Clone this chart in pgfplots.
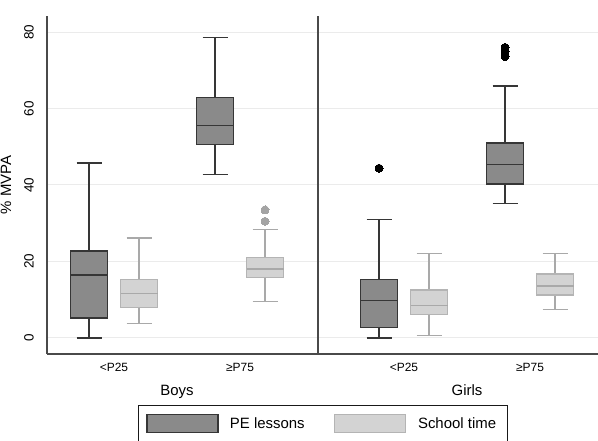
\documentclass[border=0pt]{standalone}
\usepackage{pgfplots}
\pgfplotsset{compat=1.18}
\usepackage{fontspec}
\setmainfont{Liberation Sans}
\definecolor{pefill}{HTML}{8A8A8A}
\definecolor{peedge}{HTML}{363636}
\definecolor{stfill}{HTML}{D3D3D3}
\definecolor{stedge}{HTML}{B4B4B4}
\definecolor{stwhiskc}{HTML}{A9A9A9}
\definecolor{stout}{HTML}{A4A4A4}
\definecolor{gridc}{HTML}{EBEBEB}
\definecolor{axc}{HTML}{4A4A4A}
% \bx{position}{lower whisker}{lower quartile}{median}{upper quartile}{upper whisker}{style prefix}
\newcommand{\bx}[7]{%
  \pgfmathsetmacro\bxl{#1-18.5}\pgfmathsetmacro\bxr{#1+18.5}%
  \pgfmathsetmacro\capl{#1-12.5}\pgfmathsetmacro\capr{#1+12.5}%
  \addplot[forget plot, #7whisk] coordinates {(#1,#5) (#1,#6)};
  \addplot[forget plot, #7whisk] coordinates {(#1,#2) (#1,#3)};
  \addplot[forget plot, #7whisk] coordinates {(\capl,#6) (\capr,#6)};
  \addplot[forget plot, #7whisk] coordinates {(\capl,#2) (\capr,#2)};
  \addplot[forget plot, #7box] coordinates {(\bxl,#3) (\bxr,#3) (\bxr,#5) (\bxl,#5)} -- cycle;
  \addplot[forget plot, #7med] coordinates {(\bxl,#4) (\bxr,#4)};
}
\begin{document}
\begin{tikzpicture}
\path[use as bounding box] (-47bp,-87bp) rectangle (551bp,354bp);
\begin{axis}[
  at={(0,0)}, anchor=south west,
  scale only axis, width=551bp, height=338bp,
  xmin=47, xmax=598, ymin=-4.2, ymax=84.2,
  clip=false,
  axis x line*=bottom, axis y line*=left,
  axis line style={-, draw=axc, line width=1.2bp},
  xtick={114,240,404,530},
  xticklabels={<P25,≥P75,<P25,≥P75},
  ytick={0,20,40,60,80},
  major tick length=0pt,
  ymajorgrids,
  grid style={draw=gridc, line width=1bp},
  /pgf/number format/assume math mode=true,
  xticklabel style={font=\fontsize{12}{14}\selectfont, anchor=base, yshift=-17.3bp},
  yticklabel style={font=\fontsize{13.5}{16}\selectfont, rotate=90, anchor=center, yshift=18bp},
  ylabel={\% MVPA},
  every axis y label/.style={at={(axis description cs:0,0.5)}, rotate=90, anchor=center, yshift=41bp, font=\fontsize{15}{18}\selectfont},
  legend columns=2,
  legend style={at={(axis description cs:0.1652,-0.1509)}, anchor=north west,
    draw=black!90, line width=0.9bp, inner xsep=8bp, inner ysep=8.5bp,
    font=\fontsize{15}{18}\selectfont, column sep=0pt, nodes={inner sep=0pt}},
  pewhisk/.style={draw=peedge, line width=1.4bp, mark=none},
  pebox/.style={draw=peedge, fill=pefill, line width=1.7bp, mark=none},
  pemed/.style={draw=peedge, line width=1.6bp, mark=none},
  stwhisk/.style={draw=stwhiskc, line width=1.3bp, mark=none},
  stbox/.style={draw=stedge, fill=stfill, line width=1.3bp, mark=none},
  stmed/.style={draw=stwhiskc, line width=1.3bp, mark=none},
  peout/.style={only marks, mark=*, mark size=4bp, mark options={fill=black, draw=black, line width=0pt}},
  stoutl/.style={only marks, mark=*, mark size=4bp, mark options={fill=stout, draw=stout, line width=0pt}},
]
\addlegendimage{legend image code/.code={\draw[draw=peedge, fill=pefill, line width=1.5bp] (0bp,-9bp) rectangle (71bp,9bp);}}
\addlegendentry{\rule{11bp}{0pt}PE lessons\rule{29bp}{0pt}}
\addlegendimage{legend image code/.code={\draw[draw=stedge, fill=stfill, line width=1.3bp] (0bp,-9bp) rectangle (71bp,9bp);}}
\addlegendentry{\rule{12bp}{0pt}School time\rule{3bp}{0pt}}

% Boys <P25
\bx{89}{0}{5.3}{16.5}{22.8}{45.8}{pe}
\bx{139}{3.8}{8.0}{11.7}{15.3}{26.1}{st}
% Boys >=P75
\bx{215}{42.7}{50.6}{55.6}{62.9}{78.6}{pe}
\bx{265}{9.5}{15.8}{18.0}{21.1}{28.4}{st}
\addplot[forget plot, stoutl] coordinates {(265,33.5) (265,30.5)};
% Girls <P25
\bx{379}{0}{2.7}{9.8}{15.3}{31.0}{pe}
\addplot[forget plot, peout] coordinates {(379,44.4)};
\bx{429}{0.7}{6.1}{8.5}{12.5}{22.0}{st}
% Girls >=P75
\bx{505}{35.2}{40.3}{45.4}{50.9}{65.9}{pe}
\addplot[forget plot, peout] coordinates {(505,76.0) (505,74.8) (505,73.6)};
\bx{555}{7.5}{11.2}{13.6}{16.7}{22.1}{st}

\draw[axc, line width=1.3bp] (axis cs:318,-4.2) -- (axis cs:318,84.2);
\node[font=\fontsize{15}{18}\selectfont, anchor=base] at (axis cs:177,-15.05) {Boys};
\node[font=\fontsize{15}{18}\selectfont, anchor=base] at (axis cs:467,-15.05) {Girls};
\end{axis}
\end{tikzpicture}
\end{document}
